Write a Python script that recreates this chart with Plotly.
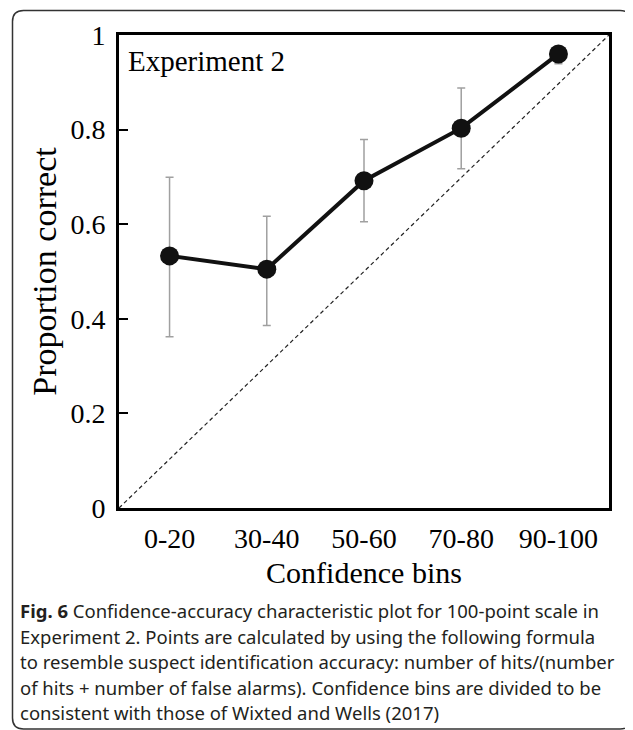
import plotly.graph_objects as go

# ---- data ----
categories = ["0-20", "30-40", "50-60", "70-80", "90-100"]
proportion = [0.533, 0.505, 0.692, 0.803, 0.960]
upper = [0.699, 0.617, 0.779, 0.888, 0.975]
lower = [0.362, 0.386, 0.605, 0.717, 0.939]
y_ticks = [0, 0.2, 0.4, 0.6, 0.8, 1]
y_tick_text = ["0", "0.2", "0.4", "0.6", "0.8", "1"]
caption_lines = [
    "<b>Fig. 6</b> Confidence-accuracy characteristic plot for 100-point scale in",
    "Experiment 2. Points are calculated by using the following formula",
    "to resemble suspect identification accuracy: number of hits/(number",
    "of hits + number of false alarms). Confidence bins are divided to be",
    "consistent with those of Wixted and Wells (2017)",
]

# page has an 8px body margin: figure pixel = page pixel - 8
OFF = 8
W, H = 633 - OFF, 730 - OFF
# plot area in page pixels
L, R, T, B = 119, 609, 35, 508

def px_x(p):
    return (p - L) / (R - L)

def px_y(p):
    return (B - p) / (B - T)

err_plus = [u - m for u, m in zip(upper, proportion)]
err_minus = [m - l for m, l in zip(proportion, lower)]

fig = go.Figure()
fig.add_trace(go.Scatter(
    x=categories, y=proportion, mode="lines+markers",
    line=dict(color="#111111", width=4),
    marker=dict(color="#111111", size=19),
    error_y=dict(type="data", symmetric=False, array=err_plus, arrayminus=err_minus,
                 color="#a0a0a0", thickness=1.5, width=4),
    showlegend=False, hoverinfo="skip",
))

serif = "Liberation Serif"

fig.update_layout(
    width=W, height=H,
    margin=dict(l=L - OFF, r=(633 - OFF) - (R - OFF), t=T - OFF, b=(730 - OFF) - (B - OFF), pad=0),
    paper_bgcolor="white", plot_bgcolor="white",
    font=dict(family=serif, color="black"),
    xaxis=dict(
        range=[-0.52, 4.52], showgrid=False, zeroline=False,
        showline=True, linewidth=3, linecolor="black", mirror=True,
        ticks="", tickfont=dict(family=serif, size=28, color="black"),
        ticklabelstandoff=3,
        title=dict(text="Confidence bins", font=dict(family=serif, size=30, color="black"), standoff=10),
    ),
    yaxis=dict(
        range=[0, 1], showgrid=False, zeroline=False,
        showline=True, linewidth=3, linecolor="black", mirror=True,
        tickvals=y_ticks, ticktext=y_tick_text,
        ticks="inside", ticklen=9, tickwidth=1.5, tickcolor="black",
        tickfont=dict(family=serif, size=28, color="black"),
        ticklabelstandoff=5,
        title=dict(text="Proportion correct", font=dict(family=serif, size=34, color="black"), standoff=4),
    ),
)

# dashed identity diagonal across the plot area
fig.add_shape(type="line", xref="x domain", yref="y domain", x0=0, y0=0, x1=1, y1=1,
              line=dict(color="#222222", width=1.2, dash="4px,3px"), layer="below")

# outer rounded frame (page pixels)
x0, x1 = px_x(12.5), px_x(631)
y0, y1 = px_y(729), px_y(10.5)
rx, ry = 11 / (R - L), 11 / (B - T)
path = (f"M {x0+rx},{y1} L {x1-rx},{y1} Q {x1},{y1} {x1},{y1-ry} "
        f"L {x1},{y0+ry} Q {x1},{y0} {x1-rx},{y0} "
        f"L {x0+rx},{y0} Q {x0},{y0} {x0},{y0+ry} "
        f"L {x0},{y1-ry} Q {x0},{y1} {x0+rx},{y1} Z")
fig.add_shape(type="path", xref="paper", yref="paper", path=path,
              line=dict(color="#333333", width=1.5))

fig.add_annotation(text="Experiment 2", xref="paper", yref="paper",
                   x=px_x(126), y=px_y(61), xanchor="left", yanchor="middle",
                   showarrow=False, font=dict(family=serif, size=29, color="black"))

cap_y = [610, 636, 661, 687, 712]
for line, yy in zip(caption_lines, cap_y):
    fig.add_annotation(text=line, xref="paper", yref="paper",
                       x=px_x(18), y=px_y(yy), xanchor="left", yanchor="middle",
                       showarrow=False, font=dict(family="Noto Sans", size=18.5, color="#231f20"))

fig.write_html("out.html")
